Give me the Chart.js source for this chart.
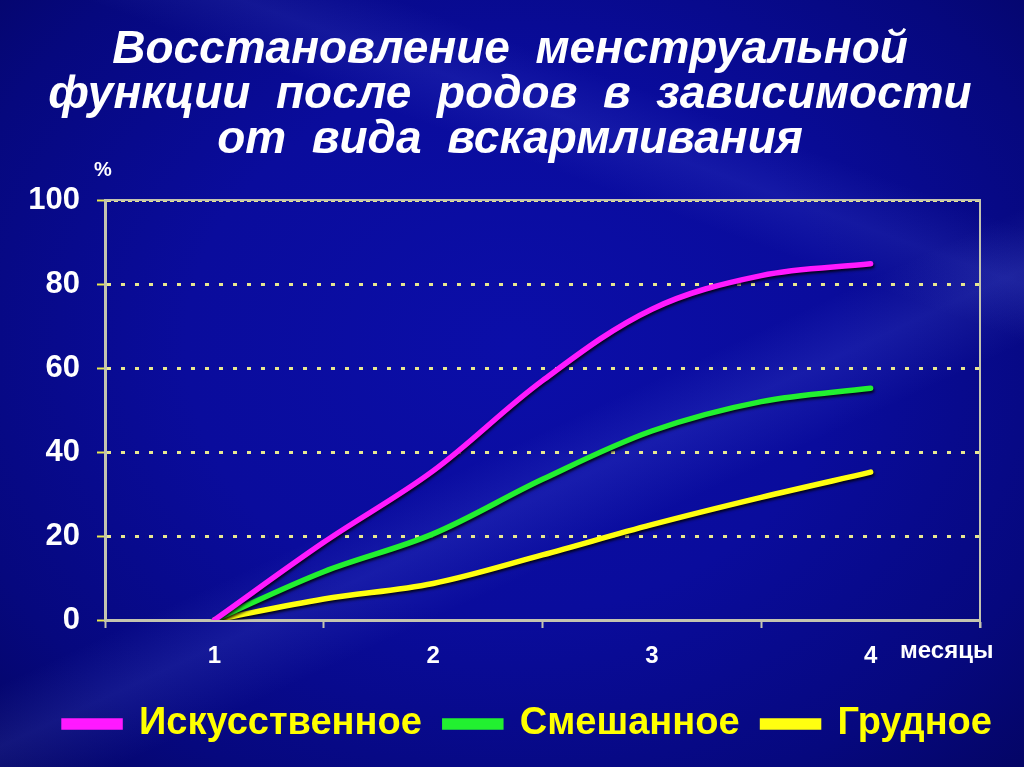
<!DOCTYPE html>
<html>
<head>
<meta charset="utf-8">
<script src="https://cdn.jsdelivr.net/npm/chart.js@4.4.1/dist/chart.umd.min.js"></script>
<style>
  html, body { margin:0; padding:0; width:1024px; height:767px; overflow:hidden; }
  body {
    background:
      linear-gradient(155deg, rgba(120,140,255,0) 55%, rgba(120,140,255,0.12) 60%, rgba(120,140,255,0) 66%),
      linear-gradient(20deg, rgba(120,140,255,0) 70%, rgba(120,140,255,0.10) 75%, rgba(120,140,255,0) 80%),
      radial-gradient(ellipse at 50% 45%, #0b0ea8 0%, #0a0c9c 45%, #06087e 80%, #040566 100%);
  }
  #wrap { position:absolute; left:0; top:0; width:1024px; height:767px; }
</style>
</head>
<body>
<div id="wrap"><canvas id="c" width="1024" height="767"></canvas></div>
<script>
// ---- data ----
const titleLines = ['Восстановление  менструальной', 'функции  после  родов  в  зависимости', 'от  вида  вскармливания'];
const months = [1, 1.5, 2, 2.5, 3, 3.5, 4];
const monthTickLabels = ['1', '2', '3', '4'];
const yTicks = [0, 20, 40, 60, 80, 100];
const seriesNames = ['Искусственное', 'Смешанное', 'Грудное'];
const artificial = [0, 18.5, 35.5, 57, 74, 82, 84.8];
const mixed = [0, 11.5, 20.5, 33.5, 45, 52, 55.2];
const breast = [0, 5, 8.7, 15.5, 22.7, 29.2, 35.2];
const xUnit = 'месяцы';
const yUnit = '%';

const seriesColors = ['#ff19ff', '#22f030', '#ffff10'];
const toPoints = arr => arr.map((v, i) => ({ x: months[i], y: v }));

const extraText = {
  id: 'extraText',
  afterLayout(chart) {
    // shift the legend and title blocks to the right as in the original slide
    if (chart.legend) { chart.legend.left += 38; chart.legend.right += 38; }
    if (chart.titleBlock) { chart.titleBlock.left += 20; chart.titleBlock.right += 20; }
  },
  afterDraw(chart) {
    const { ctx, chartArea } = chart;
    ctx.save();
    ctx.strokeStyle = '#c4c4b0';
    ctx.lineWidth = 2;
    ctx.beginPath();
    ctx.moveTo(chartArea.left, chartArea.top);
    ctx.lineTo(chartArea.right, chartArea.top);
    ctx.lineTo(chartArea.right, chartArea.bottom + 8);
    ctx.stroke();
    ctx.fillStyle = '#ffffff';
    ctx.font = 'bold 20px "Liberation Sans", Arial, sans-serif';
    ctx.textAlign = 'center';
    ctx.textBaseline = 'middle';
    ctx.fillText(yUnit, chartArea.left - 2, chartArea.top - 30);
    ctx.font = 'bold 24px "Liberation Sans", Arial, sans-serif';
    ctx.textAlign = 'left';
    ctx.fillText(xUnit, chartArea.right - 80, chartArea.bottom + 31);
    ctx.restore();
  }
};

const lineShadow = {
  id: 'lineShadow',
  beforeDatasetDraw(chart) {
    const ctx = chart.ctx;
    ctx.save();
    ctx.shadowColor = 'rgba(0,0,0,0.85)';
    ctx.shadowBlur = 3;
    ctx.shadowOffsetX = 1;
    ctx.shadowOffsetY = 2;
  },
  afterDatasetDraw(chart) { chart.ctx.restore(); }
};

new Chart(document.getElementById('c'), {
  type: 'line',
  data: {
    datasets: [
      { label: seriesNames[0], data: toPoints(artificial), borderColor: seriesColors[0], backgroundColor: seriesColors[0] },
      { label: seriesNames[1], data: toPoints(mixed), borderColor: seriesColors[1], backgroundColor: seriesColors[1] },
      { label: seriesNames[2], data: toPoints(breast), borderColor: seriesColors[2], backgroundColor: seriesColors[2] }
    ]
  },
  options: {
    responsive: false,
    animation: false,
    devicePixelRatio: 1,
    layout: { padding: { left: 0, right: 44, top: 0, bottom: 14 } },
    elements: {
      line: { borderWidth: 5.5, tension: 0.35, borderCapStyle: 'round' },
      point: { radius: 0, hoverRadius: 0 }
    },
    plugins: {
      tooltip: { enabled: false },
      title: {
        display: true,
        text: titleLines,
        color: '#ffffff',
        font: { family: '"Liberation Sans", Arial, sans-serif', size: 46, weight: 'bold', style: 'italic', lineHeight: '45px' },
        padding: { top: 28, bottom: 37 }
      },
      legend: {
        position: 'bottom',
        labels: {
          color: '#ffff00',
          font: { family: '"Liberation Sans", Arial, sans-serif', size: 38, weight: 'bold' },
          boxWidth: 56,
          boxHeight: 6,
          padding: 23
        }
      }
    },
    scales: {
      x: {
        type: 'linear',
        min: 0.5,
        max: 4.5,
        afterBuildTicks(scale) {
          const vals = [0.5];
          monthTickLabels.forEach(l => { vals.push(Number(l)); vals.push(Number(l) + 0.5); });
          scale.ticks = vals.map(v => ({ value: v }));
        },
        afterFit(scale) { scale.height = 62; },
        ticks: {
          autoSkip: false,
          maxRotation: 0,
          color: '#ffffff',
          font: { family: '"Liberation Sans", Arial, sans-serif', size: 24, weight: 'bold' },
          padding: 14,
          callback: v => (Number.isInteger(v) ? String(v) : '')
        },
        grid: {
          drawOnChartArea: false,
          tickLength: 8,
          tickWidth: 2,
          tickColor: ctx => (ctx.tick && Number.isInteger(ctx.tick.value) ? 'rgba(0,0,0,0)' : '#c4c4b0')
        },
        border: { color: '#c4c4b0', width: 3 }
      },
      y: {
        min: 0,
        max: 100,
        afterBuildTicks(scale) { scale.ticks = yTicks.map(v => ({ value: v })); },
        afterFit(scale) { scale.width = 105; },
        ticks: {
          color: '#ffffff',
          font: { family: '"Liberation Sans", Arial, sans-serif', size: 31, weight: 'bold' },
          padding: 17
        },
        grid: {
          color: ctx => (ctx.tick && ctx.tick.value === 0 ? 'rgba(0,0,0,0)' : '#e8e890'),
          lineWidth: 3,
          tickLength: 8,
          tickWidth: 2,
          tickColor: '#e8e850'
        },
        border: {
          color: '#c4c4b0',
          width: 3,
          dash: ctx => (ctx.tick && ctx.tick.value === 100 ? [4, 3] : [4, 10])
        }
      }
    }
  },
  plugins: [lineShadow, extraText]
});
</script>
</body>
</html>
